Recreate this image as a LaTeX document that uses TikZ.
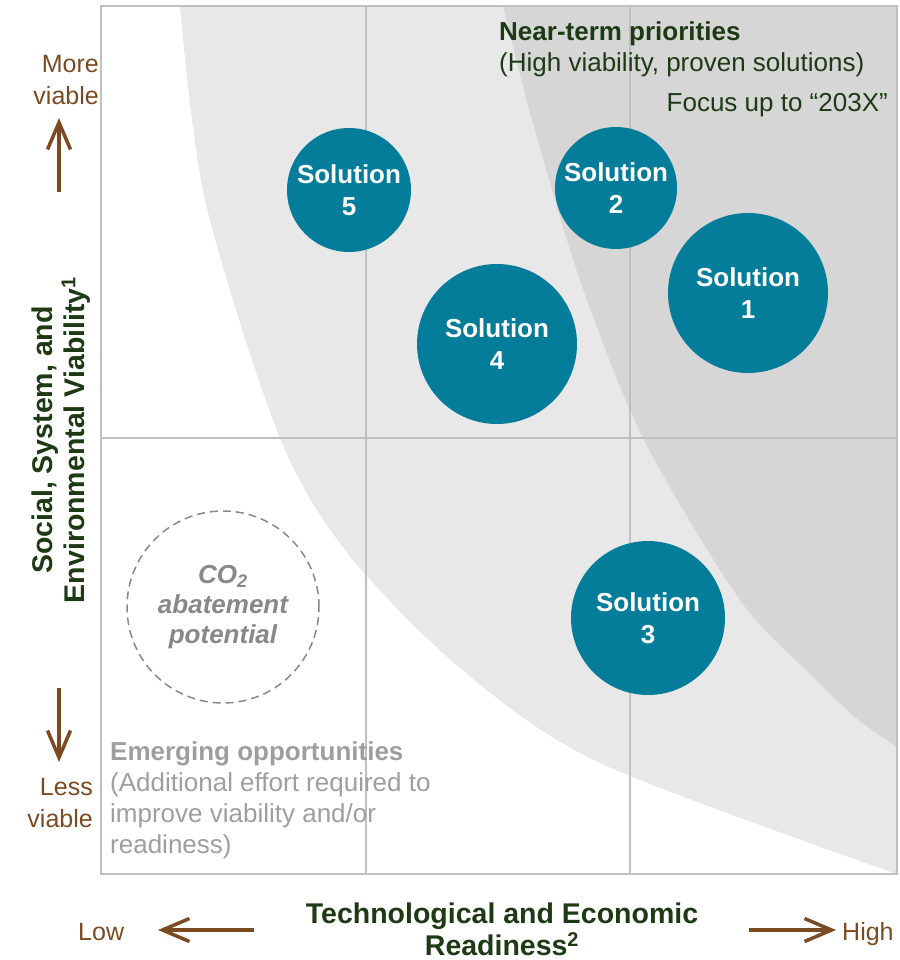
\documentclass[tikz,border=0pt]{standalone}
\usepackage{fontspec}
\setmainfont{Liberation Sans}
\usepackage{xcolor}
\usepackage{tikz}
\usetikzlibrary{arrows.meta}
\definecolor{solution teal}{RGB}{3,125,153}
\definecolor{near shade}{RGB}{214,214,214}
\definecolor{mid shade}{RGB}{232,232,232}
\definecolor{grid gray}{RGB}{192,192,192}
\definecolor{title green}{RGB}{30,58,20}
\definecolor{axis brown}{RGB}{124,74,34}
\definecolor{emerging gray}{RGB}{158,158,158}
\definecolor{co2 gray}{RGB}{136,136,136}
\tikzset{
solution/.style = { circle, fill = solution teal, text = white, font = \fontsize{26}{32}\selectfont\bfseries, align = center, inner sep = 0pt, minimum size = #1 },
grid line/.style = { draw = grid gray, line width = 2pt },
axis arrow/.style = { draw = axis brown, line width = 3.5pt, -{Straight Barb[length = 27pt, width = 23pt, line width = 3.5pt]} },
axis end/.style = { text = axis brown, font = \fontsize{25}{32}\selectfont, inner sep = 0pt },
axis title/.style = { text = title green, font = \fontsize{28.5}{32}\selectfont\bfseries, align = center, inner sep = 0pt },
quadrant note/.style = { font = \fontsize{26}{31}\selectfont, inner sep = 0pt },
}

\begin{document}
\begin{tikzpicture}[x = 1pt, y = -1pt]
    \useasboundingbox (0, 0) rectangle (899, 960);
    % shaded bands
    \fill[mid shade] (897, 6) -- plot[smooth] coordinates {(180, 6) (205, 200) (278, 433) (345, 550) (460, 668) (600, 763) (897, 874)} -- cycle;
    \fill[near shade] (897, 6) -- plot[smooth] coordinates {(503, 6) (532, 120) (580, 280) (643, 438) (740, 600) (808, 672) (855, 717) (897, 747)} -- cycle;
    % frame and quadrants
    \draw[grid line] (101, 6) rectangle (897, 874);
    \draw[grid line] (366, 6) -- (366, 874);
    \draw[grid line] (630, 6) -- (630, 874);
    \draw[grid line] (101, 438) -- (897, 438);
    % solutions
    \node[solution = 160pt] (sol1) at (748, 293) {Solution\\1};
    \node[solution = 122pt] (sol2) at (616, 188) {Solution\\2};
    \node[solution = 154pt] (sol3) at (648, 618) {Solution\\3};
    \node[solution = 160pt] (sol4) at (497, 344) {Solution\\4};
    \node[solution = 124pt] (sol5) at (349, 190) {Solution\\5};
    \node[circle, draw = co2 gray, line width = 1.5pt, dash pattern = on 8pt off 5pt, minimum size = 192pt, inner sep = 0pt, text = co2 gray, font = \fontsize{26}{30}\selectfont\bfseries\itshape, align = center] (co2) at (223, 607) {CO\textsubscript{2}\\abatement\\potential};
    % quadrant notes
    \node[quadrant note, anchor = base west, text = title green, align = left] (near) at (499, 72) {\textbf{Near-term priorities}\\(High viability, proven solutions)};
    \node[quadrant note, anchor = base east, text = title green] (focus) at (888, 112) {Focus up to “203X”};
    \node[quadrant note, anchor = base west, text = emerging gray, align = left] (emerging) at (110, 853) {\textbf{Emerging opportunities}\\(Additional effort required to\\improve viability and/or\\readiness)};
    % axes
    \node[axis end, anchor = base east, align = right] (more) at (99, 105) {More\\viable};
    \node[axis end, anchor = base east, align = right] (less) at (93, 827) {Less\\viable};
    \node[axis end, anchor = base west] (low) at (78, 940) {Low};
    \node[axis end, anchor = base west] (high) at (842, 940) {High};
    \coordinate (more tail) at (59, 192);
    \coordinate (more tip) at (59, 118);
    \coordinate (less tail) at (59, 688);
    \coordinate (less tip) at (59, 762);
    \coordinate (low tail) at (254, 930);
    \coordinate (low tip) at (158, 930);
    \coordinate (high tail) at (749, 930);
    \coordinate (high tip) at (836, 930);
    \draw[axis arrow] (more tail) -- (more tip);
    \draw[axis arrow] (less tail) -- (less tip);
    \draw[axis arrow] (low tail) -- (low tip);
    \draw[axis arrow] (high tail) -- (high tip);
    \node[axis title, rotate = 90] (viability) at (61, 440) {Social, System, and\\Environmental Viability\textsuperscript{1}};
    \node[axis title] (readiness) at (502, 929) {Technological and Economic\\Readiness\textsuperscript{2}};
\end{tikzpicture}
\end{document}
